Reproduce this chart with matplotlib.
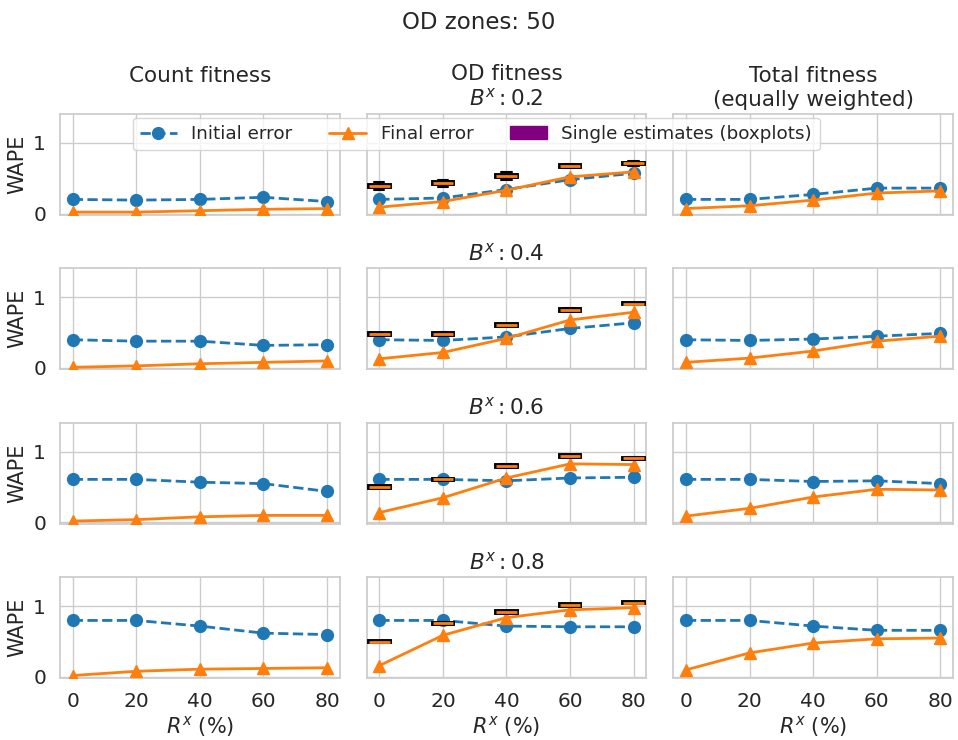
import numpy as np
import matplotlib
matplotlib.use("Agg")
import matplotlib.pyplot as plt
import matplotlib.patches as mpatches
from matplotlib.lines import Line2D
import seaborn as sns

sns.set_theme(style="whitegrid")

blue = "#1f77b4"
orange = "#ff7f0e"

r_x = [0, 20, 40, 60, 80]
b_x = [0.2, 0.4, 0.6, 0.8]
col_titles = ["Count fitness\n ", "OD fitness", "Total fitness\n(equally weighted)"]

# initial / final WAPE per row (B^x) for each fitness
count_init = [[0.20, 0.19, 0.20, 0.23, 0.17],
              [0.40, 0.38, 0.38, 0.32, 0.33],
              [0.61, 0.61, 0.57, 0.55, 0.44],
              [0.80, 0.80, 0.72, 0.62, 0.60]]
count_final = [[0.02, 0.02, 0.04, 0.06, 0.07],
               [0.01, 0.03, 0.06, 0.08, 0.10],
               [0.02, 0.04, 0.08, 0.10, 0.10],
               [0.02, 0.08, 0.11, 0.12, 0.13]]
od_init = [[0.20, 0.22, 0.34, 0.48, 0.57],
           [0.40, 0.39, 0.44, 0.56, 0.64],
           [0.61, 0.61, 0.59, 0.63, 0.64],
           [0.80, 0.80, 0.72, 0.71, 0.71]]
od_final = [[0.09, 0.17, 0.33, 0.52, 0.59],
            [0.13, 0.22, 0.42, 0.68, 0.79],
            [0.14, 0.35, 0.63, 0.83, 0.82],
            [0.16, 0.59, 0.84, 0.95, 0.98]]
total_init = [[0.20, 0.20, 0.27, 0.36, 0.36],
              [0.40, 0.39, 0.41, 0.45, 0.49],
              [0.61, 0.61, 0.58, 0.59, 0.55],
              [0.80, 0.80, 0.72, 0.66, 0.66]]
total_final = [[0.07, 0.11, 0.19, 0.29, 0.32],
               [0.08, 0.14, 0.24, 0.38, 0.45],
               [0.09, 0.20, 0.36, 0.47, 0.46],
               [0.10, 0.34, 0.48, 0.54, 0.55]]

# single estimates of OD fitness (box stats)
box_med = [[0.39, 0.43, 0.53, 0.67, 0.71],
           [0.48, 0.48, 0.61, 0.82, 0.91],
           [0.50, 0.61, 0.80, 0.94, 0.91],
           [0.50, 0.76, 0.92, 1.02, 1.05]]
box_iqr = [[0.04, 0.035, 0.035, 0.025, 0.02],
           [0.02, 0.03, 0.02, 0.03, 0.02],
           [0.02, 0.02, 0.02, 0.02, 0.01],
           [0.015, 0.02, 0.02, 0.02, 0.02]]
box_whis = [[0.12, 0.10, 0.12, 0.06, 0.06],
            [0.03, 0.05, 0.03, 0.06, 0.03],
            [0.03, 0.03, 0.05, 0.04, 0.02],
            [0.025, 0.03, 0.03, 0.03, 0.03]]

init_data = [count_init, od_init, total_init]
final_data = [count_final, od_final, total_final]

fig, axes = plt.subplots(4, 3, figsize=(9.58, 7.40), dpi=100, sharex=True, sharey=True)
fig.subplots_adjust(left=0.0626, right=0.9948, top=0.846, bottom=0.0838, wspace=0.096, hspace=0.535)

for i in range(4):
    for j in range(3):
        ax = axes[i, j]
        ax.plot(r_x, init_data[j][i], "o--", color=blue, lw=2, ms=8.5, zorder=3)
        ax.plot(r_x, final_data[j][i], "^-", color=orange, lw=2, ms=8.5, zorder=3)
        if j == 1:
            stats = []
            for k in range(5):
                m = box_med[i][k]
                stats.append(dict(med=m, q1=m - box_iqr[i][k] / 2, q3=m + box_iqr[i][k] / 2,
                                  whislo=m - box_whis[i][k] / 2, whishi=m + box_whis[i][k] / 2,
                                  fliers=[]))
            ax.bxp(stats, positions=r_x, widths=6.5, patch_artist=True, manage_ticks=False,
                   boxprops=dict(facecolor="purple", edgecolor="black", lw=2.8),
                   medianprops=dict(color=orange, lw=2),
                   whiskerprops=dict(color="black", lw=1.5),
                   capprops=dict(color="black", lw=1.5), zorder=4)
        ax.set_xlim(-4, 84)
        ax.set_ylim(-0.015, 1.41)
        ax.set_xticks(r_x)
        ax.set_yticks([0, 1])
        ax.tick_params(labelsize=14.5, pad=4)
        if i == 0:
            t = col_titles[j]
            if j == 1:
                t = "OD fitness\n$B^x: 0.2$"
            ax.set_title(t, fontsize=15.5)
        elif j == 1:
            ax.set_title("$B^x: %.1f$" % b_x[i], fontsize=15.5)
        if j == 0:
            ax.set_ylabel("WAPE", fontsize=15)
        if i == 3:
            ax.set_xlabel("$R^x$ (%)", fontsize=15, labelpad=2)

handles = [Line2D([], [], color=blue, ls="--", marker="o", lw=2, ms=8.5),
           Line2D([], [], color=orange, ls="-", marker="^", lw=2, ms=8.5),
           mpatches.Patch(facecolor="purple", edgecolor="purple")]
labels = ["Initial error", "Final error", "Single estimates (boxplots)"]
fig.legend(handles, labels, loc="upper center", bbox_to_anchor=(0.497, 0.846), ncol=3,
           fontsize=13.2, frameon=True, borderaxespad=0.2)

fig.suptitle("OD zones: 50", fontsize=16.5, y=0.985)
fig.savefig("out.png", dpi=100)
